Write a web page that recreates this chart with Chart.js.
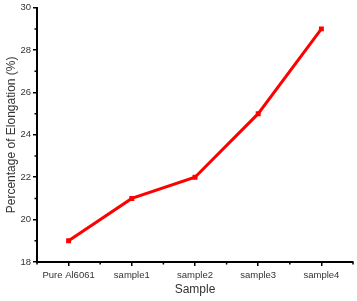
<!DOCTYPE html>
<html>
<head>
<meta charset="utf-8">
<script src="https://cdn.jsdelivr.net/npm/chart.js@4/dist/chart.umd.min.js"></script>
<style>
    html, body { margin: 0; padding: 0; background: #fff; }
    #wrap { width: 357px; height: 301px; }
</style>
</head>
<body>
<div id="wrap"><canvas id="chart"></canvas></div>
<script>
// data
const categories = ["Pure Al6061", "sample1", "sample2", "sample3", "sample4"];
const elongation = [19, 21, 22, 25, 29];
const yTicks = [18, 20, 22, 24, 26, 28, 30];

const FONT = "'Liberation Sans', Arial, sans-serif";

// small minor ticks between major ones, outward like the original
const minorTicks = {
    id: "minorTicks",
    afterDraw(chart) {
        const ctx = chart.ctx;
        const x = chart.scales.x;
        const y = chart.scales.y;
        ctx.save();
        ctx.strokeStyle = "#000";
        ctx.lineWidth = 1.5;
        ctx.beginPath();
        for (let v = yTicks[0] + 1; v < yTicks[yTicks.length - 1]; v += 2) {
            const py = y.getPixelForValue(v);
            ctx.moveTo(x.left, py);
            ctx.lineTo(x.left - 2.5, py);
        }
        for (let i = 0; i <= categories.length; i++) {
            const px = x.getPixelForValue(i - 0.5);
            ctx.moveTo(px, y.bottom);
            ctx.lineTo(px, y.bottom + 2.5);
        }
        ctx.stroke();
        ctx.restore();
    }
};

new Chart(document.getElementById("chart"), {
    type: "line",
    data: {
        labels: categories,
        datasets: [{
            data: elongation,
            borderColor: "#ff0000",
            backgroundColor: "#ff0000",
            borderWidth: 3,
            pointStyle: "rect",
            pointRadius: 3.5,
            pointBorderWidth: 0,
            tension: 0
        }]
    },
    options: {
        responsive: true,
        maintainAspectRatio: false,
        animation: false,
        layout: { padding: { top: 6, right: 3, left: 0, bottom: 0 } },
        plugins: {
            legend: { display: false },
            tooltip: { enabled: false }
        },
        scales: {
            x: {
                offset: true,
                grid: { drawOnChartArea: false, offset: false, tickLength: 4, color: "#000", lineWidth: 1.5 },
                border: { color: "#000", width: 2 },
                ticks: { color: "#333", font: { family: FONT, size: 9.5 }, padding: 4, maxRotation: 0 },
                title: { display: true, text: "Sample", color: "#333", font: { family: FONT, size: 12 }, padding: { top: 3 } },
                afterFit: s => { s.height = 39; }
            },
            y: {
                min: 18,
                max: 30,
                afterBuildTicks: s => { s.ticks = yTicks.map(v => ({ value: v })); },
                grid: { drawOnChartArea: false, tickLength: 4, color: "#000", lineWidth: 1.5 },
                border: { color: "#000", width: 2 },
                ticks: { color: "#333", font: { family: FONT, size: 9.5 }, padding: 2 },
                title: { display: true, text: "Percentage of Elongation (%)", color: "#333", font: { family: FONT, size: 12 }, padding: { bottom: 1 } },
                afterFit: s => { s.width = 37; }
            }
        }
    },
    plugins: [minorTicks]
});
</script>
</body>
</html>
